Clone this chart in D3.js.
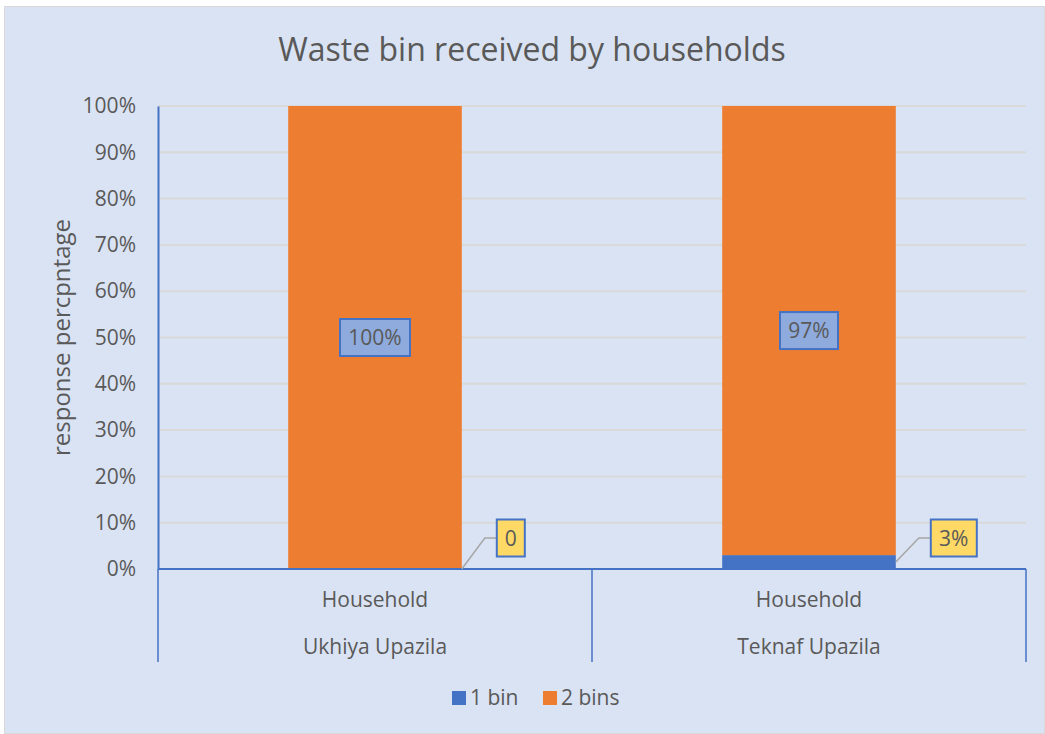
<!DOCTYPE html>
<html>
<head>
<meta charset="utf-8">
<script src="https://cdn.jsdelivr.net/npm/d3@7"></script>
<style>
  body { margin: 0; background: #fff; }
  text { font-family: "Open Sans", "Liberation Sans", sans-serif; fill: #595959; }
</style>
</head>
<body>
<svg id="chart" width="1045" height="734"></svg>
<script>
// data
const groups = ["Ukhiya Upazila", "Teknaf Upazila"];
const subLabels = ["Household", "Household"];
const series = ["1 bin", "2 bins"];
const oneBin = [0, 0.03];
const twoBins = [1.0, 0.97];
const oneBinLabels = ["0", "3%"];
const twoBinLabels = ["100%", "97%"];
const yTicks = [0, 0.1, 0.2, 0.3, 0.4, 0.5, 0.6, 0.7, 0.8, 0.9, 1.0];

const colors = { "1 bin": "#4472C4", "2 bins": "#ED7D31" };

const svg = d3.select("#chart");
const W = 1045, H = 734;
const margin = { left: 158, right: 19, top: 106, bottom: 165 };

// background
svg.append("rect").attr("x", 4.5).attr("y", 6.5).attr("width", W - 5).attr("height", H - 7)
  .attr("fill", "#DAE3F3").attr("stroke", "#D9D9D9").attr("stroke-width", 1);

const x = d3.scaleBand().domain(groups).range([margin.left, W - margin.right]).paddingInner(0).paddingOuter(0);
const y = d3.scaleLinear().domain([0, 1]).range([H - margin.bottom, margin.top]);
const barW = x.bandwidth() * 0.4;

// title
svg.append("text").attr("x", 532).attr("y", 61).attr("text-anchor", "middle")
  .style("font-size", "32px").text("Waste bin received by households");

// gridlines
svg.append("g").selectAll("line").data(yTicks.filter(d => d > 0)).join("line")
  .attr("x1", margin.left).attr("x2", W - margin.right)
  .attr("y1", d => y(d)).attr("y2", d => y(d))
  .attr("stroke", "#D9D9D9").attr("stroke-width", 2);

// y axis
const yAxis = svg.append("g").attr("transform", `translate(${margin.left},0)`)
  .call(d3.axisLeft(y).tickValues(yTicks).tickFormat(d3.format(".0%")).tickSize(0).tickPadding(22));
yAxis.select(".domain").attr("stroke", "#4472C4").attr("stroke-width", 2);
yAxis.selectAll("text").style("font-size", "21px").attr("fill", "#595959")
  .style("font-family", "'Open Sans', sans-serif");

svg.append("text").attr("transform", `translate(70,${y(0.5)}) rotate(-90)`)
  .attr("text-anchor", "middle").style("font-size", "24px").text("response percpntage");

// stacked bars
const stackData = groups.map((g, i) => ({ group: g, "1 bin": oneBin[i], "2 bins": twoBins[i] }));
const stacked = d3.stack().keys(series)(stackData);

svg.append("g").selectAll("g").data(stacked).join("g")
  .attr("fill", d => colors[d.key])
  .selectAll("rect").data(d => d).join("rect")
  .attr("x", d => x(d.data.group) + (x.bandwidth() - barW) / 2)
  .attr("width", barW)
  .attr("y", d => y(d[1]))
  .attr("height", d => y(d[0]) - y(d[1]));

// category axis
const base = y(0);
const axisG = svg.append("g");
axisG.append("line").attr("x1", margin.left).attr("x2", W - margin.right)
  .attr("y1", base).attr("y2", base).attr("stroke", "#4472C4").attr("stroke-width", 2);
const seps = groups.map(g => x(g)).concat([x.range()[1]]);
axisG.selectAll(".sep").data(seps).join("line")
  .attr("x1", d => d).attr("x2", d => d).attr("y1", base).attr("y2", 662)
  .attr("stroke", "#4472C4").attr("stroke-width", 1.5);
axisG.selectAll(".sub").data(groups).join("text")
  .attr("x", g => x(g) + x.bandwidth() / 2).attr("y", 607)
  .attr("text-anchor", "middle").style("font-size", "21px")
  .text((g, i) => subLabels[i]);
axisG.selectAll(".grp").data(groups).join("text")
  .attr("x", g => x(g) + x.bandwidth() / 2).attr("y", 654)
  .attr("text-anchor", "middle").style("font-size", "21px")
  .text(g => g);

// label helper
function labelBox(cx, cy, txt, fill, w, h) {
  const g = svg.append("g");
  g.append("rect").attr("x", cx - w / 2).attr("y", cy - h / 2).attr("width", w).attr("height", h)
    .attr("fill", fill).attr("stroke", "#4472C4").attr("stroke-width", 2);
  g.append("text").attr("x", cx).attr("y", cy).attr("dy", "0.36em").attr("text-anchor", "middle")
    .style("font-size", "21px").attr("fill", "#404040").text(txt);
}

// 2 bins labels (centered in segment)
groups.forEach((g, i) => {
  const cx = x(g) + x.bandwidth() / 2;
  const cy = y(oneBin[i] + twoBins[i] / 2);
  labelBox(cx, cy, twoBinLabels[i], "#8FAADC", twoBinLabels[i].length > 3 ? 70 : 58, 37);
});

// 1 bin labels with leader lines
groups.forEach((g, i) => {
  const bx = x(g) + (x.bandwidth() + barW) / 2;
  const by = y(oneBin[i] / 2);
  const w = oneBinLabels[i].length > 1 ? 46 : 28;
  const lx = bx + 35 + w / 2;
  const ly = y(0.0) - 31;
  svg.append("polyline")
    .attr("points", `${bx},${by} ${bx + 23},${ly} ${bx + 35},${ly}`)
    .attr("fill", "none").attr("stroke", "#A6A6A6").attr("stroke-width", 1.5);
  labelBox(lx, ly, oneBinLabels[i], "#FFD966", w, 37);
});

// legend
const legend = svg.append("g");
const legItems = [{ k: "1 bin", x: 452 }, { k: "2 bins", x: 543 }];
legItems.forEach(d => {
  legend.append("rect").attr("x", d.x).attr("y", 691).attr("width", 14).attr("height", 14).attr("fill", colors[d.k]);
  legend.append("text").attr("x", d.x + 18).attr("y", 705).style("font-size", "21px").text(d.k);
});
</script>
</body>
</html>
